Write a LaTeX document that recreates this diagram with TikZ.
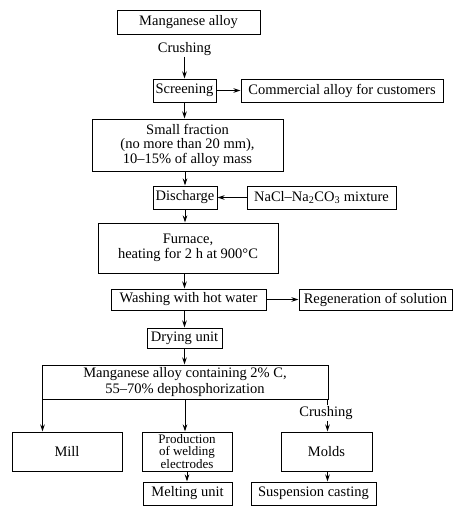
\documentclass[tikz,border=0pt]{standalone}
\usepackage{fontspec}
\setmainfont{Liberation Serif}
\usetikzlibrary{arrows.meta}
\begin{document}
\begin{tikzpicture}[x=1pt,y=-1pt,
  box/.style={draw, line width=1pt, inner sep=0pt, align=center, font=\fontsize{14.5}{15}\selectfont},
  lbl/.style={inner sep=1pt, font=\fontsize{14.5}{15}\selectfont},
  arr/.style={line width=0.9pt, -{Stealth[length=7pt,width=4.5pt]}},
  ln/.style={line width=0.9pt}]
\useasboundingbox (0,0) rectangle (453,506);
\node[box, minimum width=143pt, minimum height=24pt] (ma) at (188.5,22) {Manganese alloy};
\node[lbl] (cr1) at (184.5,49) {Crushing};
\node[box, minimum width=63pt, minimum height=23pt] (scr) at (184.5,90.5) {Screening};
\node[box, minimum width=202pt, minimum height=23pt] (com) at (342,90.5) {Commercial alloy for customers};
\node[box, minimum width=191pt, minimum height=52pt, font=\fontsize{14.5}{14.5}\selectfont] (sf) at (187.5,145) {Small fraction\\(no more than 20 mm),\\10–15\% of alloy mass};
\node[box, minimum width=64pt, minimum height=23pt] (dis) at (185,197.5) {Discharge};
\node[box, minimum width=149pt, minimum height=23pt] (nacl) at (321.5,197.5) {NaCl–Na\textsubscript{2}CO\textsubscript{3} mixture};
\node[box, minimum width=180pt, minimum height=50pt, font=\fontsize{14.5}{15.5}\selectfont] (fur) at (188,248) {Furnace,\\heating for 2 h at 900°C};
\node[box, minimum width=155pt, minimum height=21pt] (wash) at (188.5,299.5) {Washing with hot water};
\node[box, minimum width=153pt, minimum height=21pt] (reg) at (375.5,299.5) {Regeneration of solution};
\node[box, minimum width=75pt, minimum height=20pt] (dry) at (184.5,338) {Drying unit};
\node[box, minimum width=286pt, minimum height=34pt, font=\fontsize{14.5}{16}\selectfont] (mac) at (185,382) {Manganese alloy containing 2\% C,\\55–70\% dephosphorization};
\node[box, minimum width=110pt, minimum height=39pt] (mill) at (67,451.5) {Mill};
\node[box, minimum width=90pt, minimum height=39pt, font=\fontsize{13}{11.5}\selectfont] (prod) at (187,451.5) {Production\\of welding\\electrodes};
\node[box, minimum width=91pt, minimum height=39pt] (mold) at (326.5,451.5) {Molds};
\node[lbl] (cr2) at (326,413) {Crushing};
\node[box, minimum width=89pt, minimum height=23pt] (melt) at (187.5,493.5) {Melting unit};
\node[box, minimum width=125pt, minimum height=23pt] (susp) at (313.5,493.5) {Suspension casting};
\draw[arr] (cr1.south) -- (scr.north);
\draw[arr] (scr.east) -- (com.west);
\draw[arr] (scr.south) -- (scr.south |- sf.north);
\draw[arr] (sf.south -| dis) -- (dis.north);
\draw[arr] (nacl.west) -- (dis.east);
\draw[arr] (dis.south) -- (dis.south |- fur.north);
\draw[arr] (fur.south -| dry) -- (dry |- wash.north);
\draw[arr] (wash.east) -- (reg.west);
\draw[arr] (dry |- wash.south) -- (dry.north);
\draw[arr] (dry.south) -- (dry.south |- mac.north);
\draw[arr] (mac.south west) ++(1,0) coordinate (mlt) -- (mlt |- mill.north);
\draw[arr] (mac.south) -- (mac.south |- prod.north);
\draw[ln] (mac.south east) ++(-1,0) coordinate (mrt) -- (mrt |- cr2.north);
\draw[arr] (mrt |- cr2.south) -- (mrt |- mold.north);
\draw[arr] (prod.south) -- (prod.south |- melt.north);
\draw[arr] (mrt |- mold.south) -- (mrt |- susp.north);
\end{tikzpicture}
\end{document}
